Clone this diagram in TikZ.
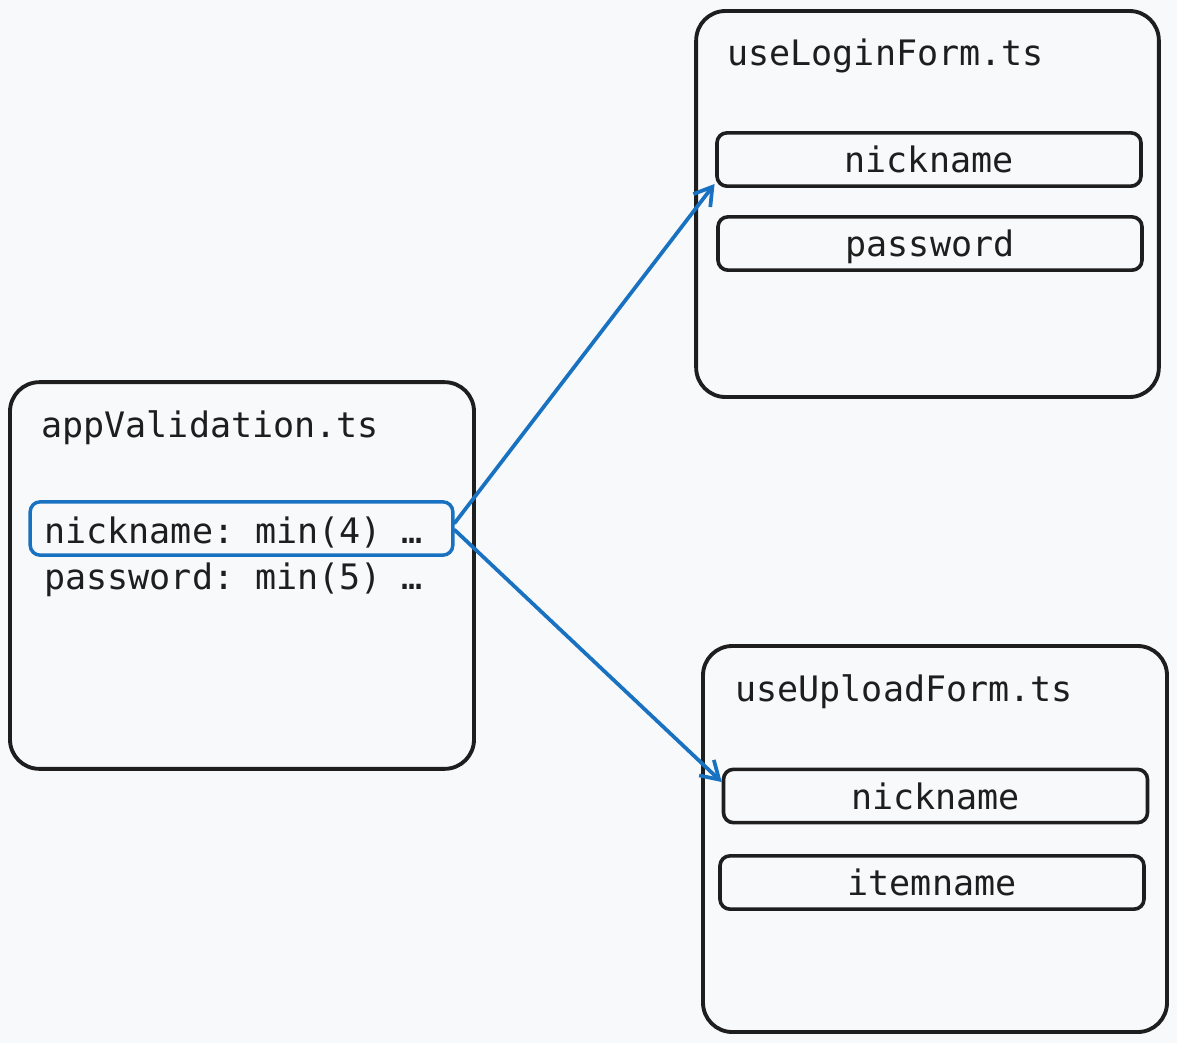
\documentclass[tikz,border=0pt]{standalone}
\usepackage{fontspec}
\setmonofont{DejaVu Sans Mono}
\usetikzlibrary{arrows.meta}
\definecolor{bg}{HTML}{F8F9FA}
\definecolor{ink}{HTML}{1E1E1E}
\definecolor{blu}{HTML}{1971C2}
\begin{document}
\begin{tikzpicture}[x=0.75pt,y=-0.75pt,
  every node/.style={font=\ttfamily\fontsize{26.3}{30}\selectfont, text=ink},
  filebox/.style={draw=ink, line width=2.9pt, rounded corners=22pt, inner sep=0pt},
  fieldbox/.style={draw=ink, line width=2.7pt, rounded corners=7.5pt, inner sep=0pt,
    minimum width=318pt, minimum height=40pt, text height=19.5pt, text depth=0pt},
  hlbox/.style={draw=blu, line width=2.6pt, rounded corners=7.5pt, inner sep=0pt,
    minimum width=317pt, minimum height=40pt},
  title/.style={anchor=base west, inner sep=0pt},
  link/.style={draw=blu, line width=2.8pt, line cap=round,
    -{Straight Barb[length=13pt,width=16pt,line width=2.8pt]}}
]
\useasboundingbox[fill=bg] (0,0) rectangle (1177,1043);

% appValidation.ts
\node[filebox, minimum width=348pt, minimum height=290pt] (app) at (242,575.5) {};
\node[title] (apptitle) at (41,437) {appValidation.ts};
\node[hlbox] (nick) at (241.5,528.5) {};
\node[title] (nicktxt) at (44,543) {nickname: min(4)\hspace{-1pt} …};
\node[title] (pwtxt) at (44,589) {password: min(5)\hspace{-1pt} …};

% useLoginForm.ts
\node[filebox, minimum width=347pt, minimum height=289.5pt] (login) at (927.5,204) {};
\node[title] (logintitle) at (727,65) {useLoginForm.ts};
\node[fieldbox] (lnick) at (929,159.5) {nickname};
\node[fieldbox] (lpass) at (930,243.5) {password};

% useUploadForm.ts
\node[filebox, minimum width=348pt, minimum height=289.5pt] (upload) at (935,839) {};
\node[title] (uploadtitle) at (735,701) {useUploadForm.ts};
\node[fieldbox] (unick) at (935.5,796) {nickname};
\node[fieldbox] (uitem) at (932,882.5) {itemname};

% connectors
\coordinate (lend) at ([xshift=-0.5pt,yshift=3pt]lnick.south west);
\coordinate (uend) at ([yshift=10.5pt]unick.west);
\path[link] ([yshift=4pt]nick.east) -- (lend);
\path[link] ([yshift=-1pt]nick.east) -- (uend);
\end{tikzpicture}
\end{document}
